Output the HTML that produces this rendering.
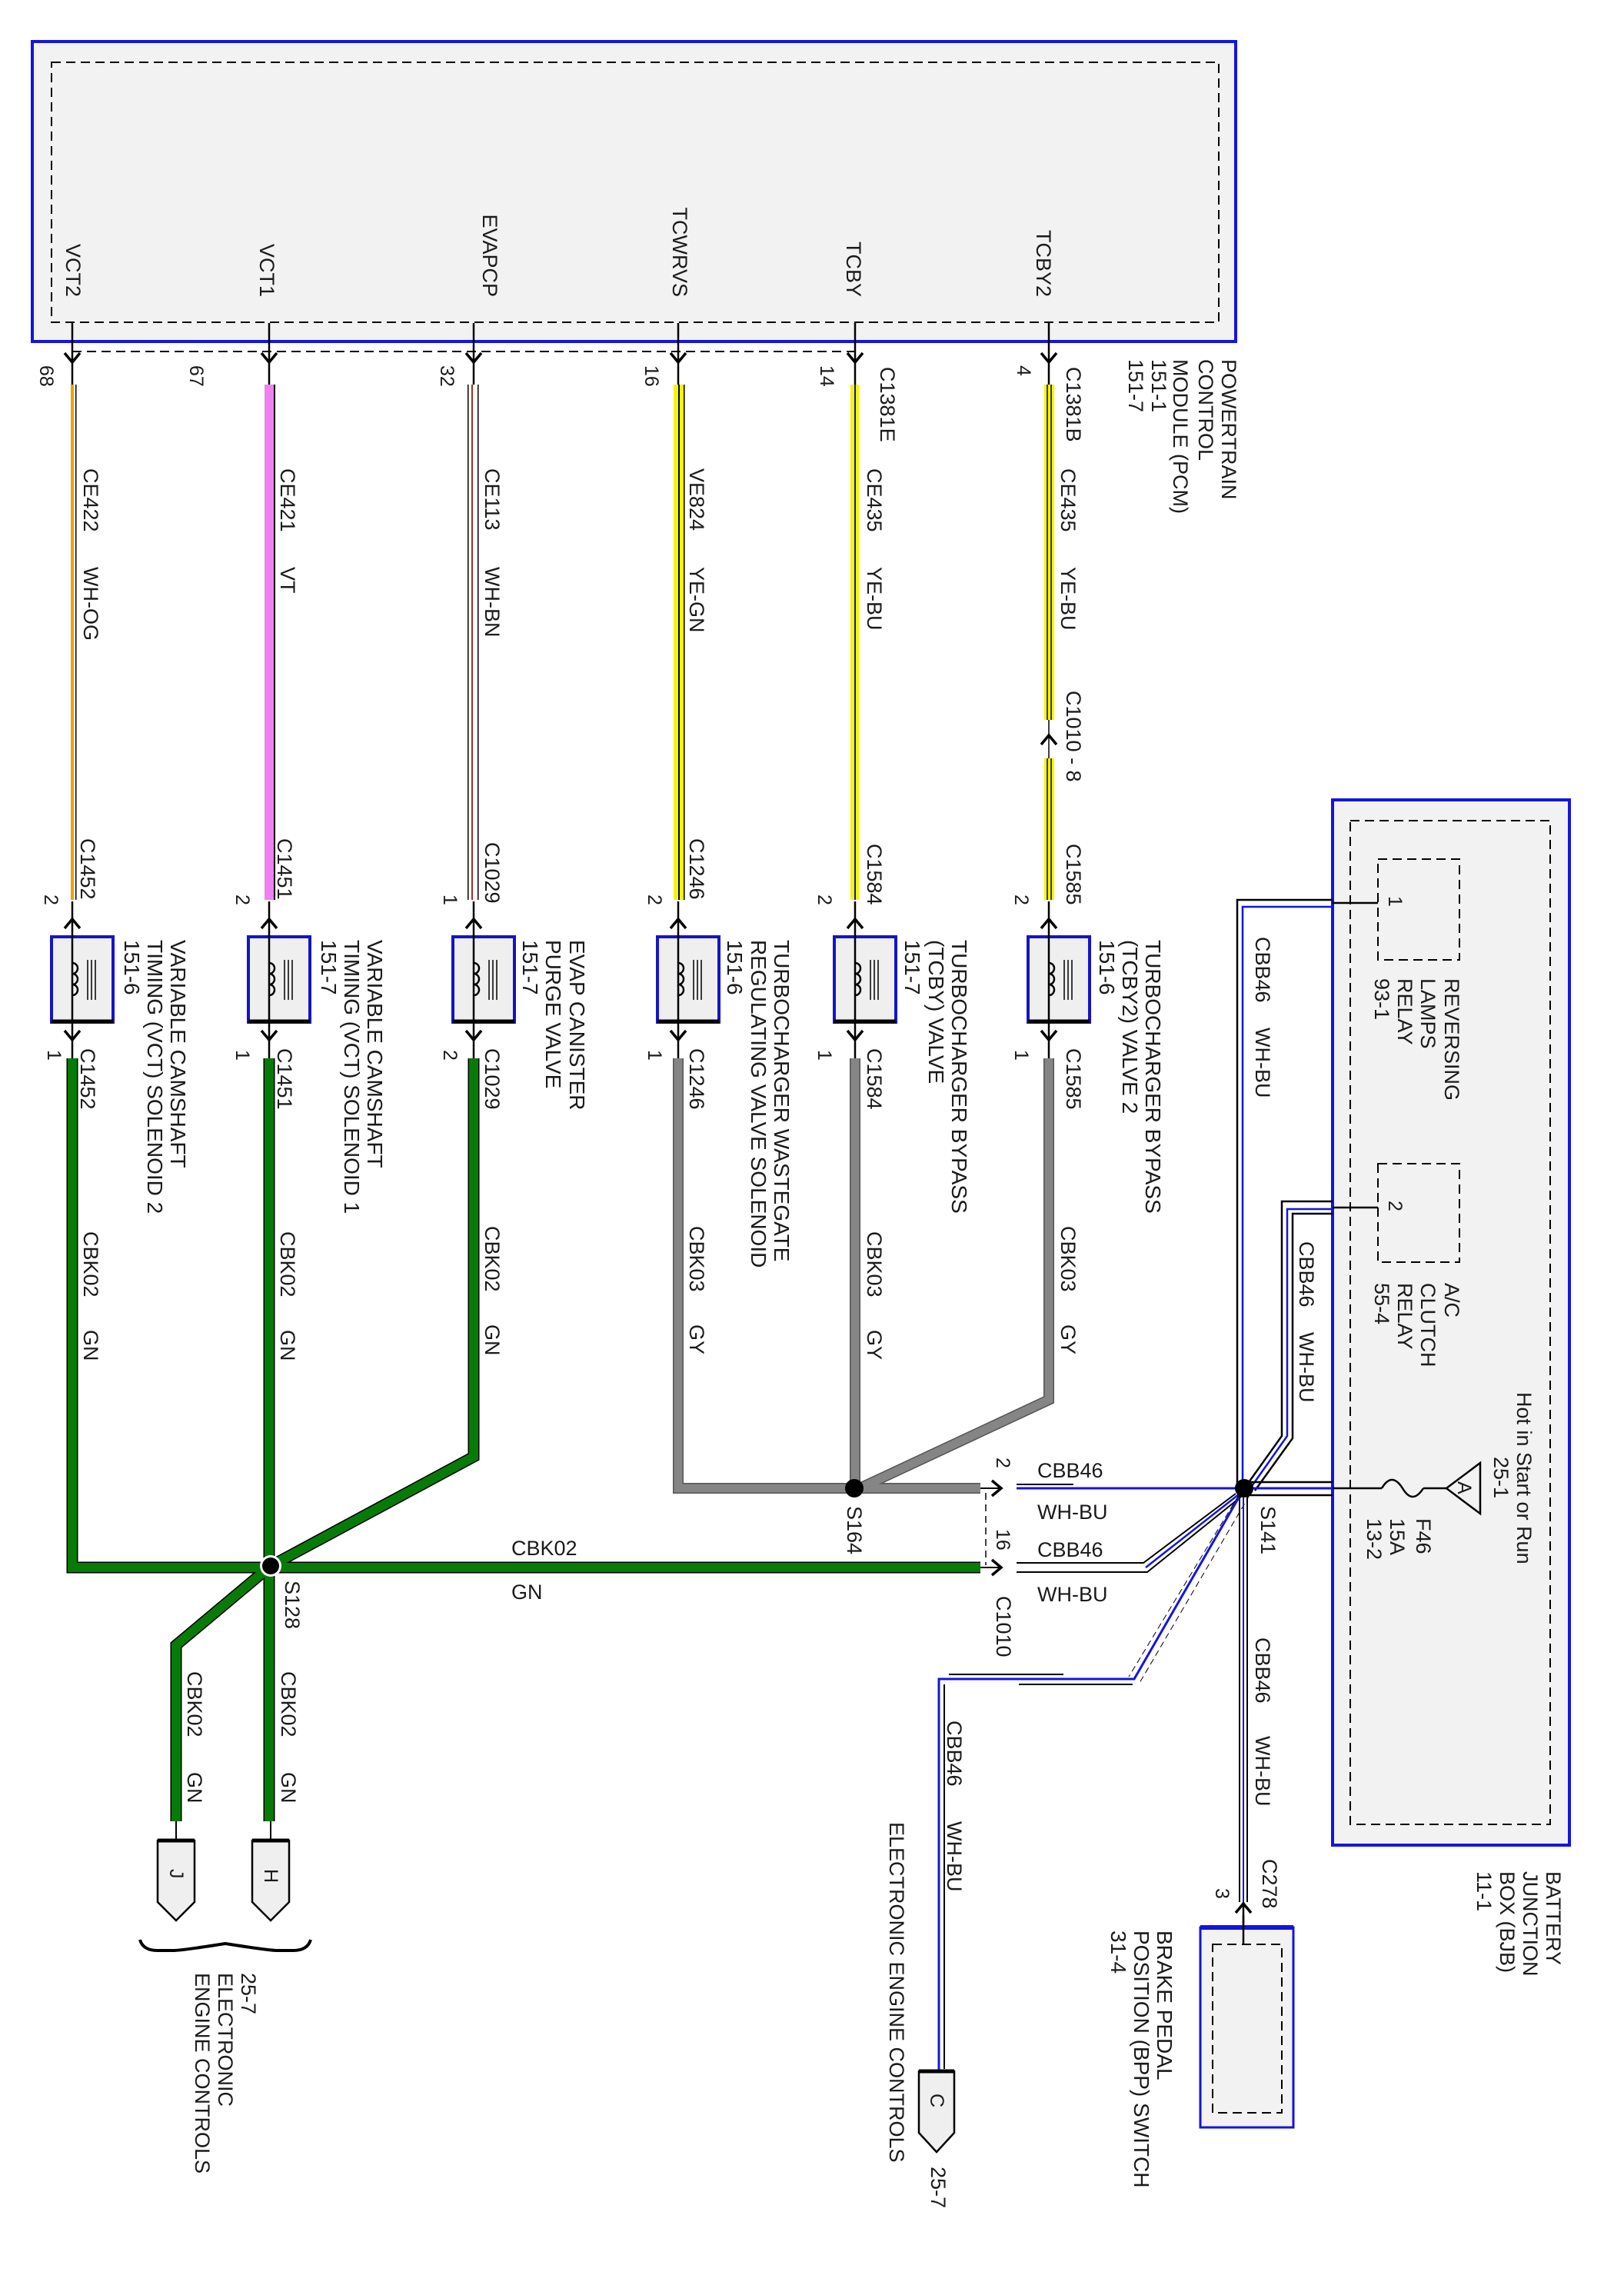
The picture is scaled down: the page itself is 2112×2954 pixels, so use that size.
<!DOCTYPE html>
<html><head><meta charset="utf-8"><style>
html,body{margin:0;padding:0;background:#fff;}
svg{display:block;}
text{font-family:"Liberation Sans",Arial,sans-serif;fill:#1a1a1a;}
.r{font-size:27px;}
.s{font-size:25px;}
.c{font-size:28px;}
</style></head><body>
<svg width="2112" height="2954" viewBox="0 0 2112 2954" xmlns="http://www.w3.org/2000/svg">
<defs>
<g id="sol">
<rect x="-27" y="1218" width="80" height="111" fill="#efefef" stroke="#1414c8" stroke-width="4"/>
<path d="M-27,1328 H53" stroke="#000" stroke-width="5"/>
<path d="M0,1172 V1376" stroke="#000" stroke-width="2.5" fill="none"/>
<path d="M0,1252 a7,7 0 0 1 0,14 a7,7 0 0 1 0,14 a7,7 0 0 1 0,14" stroke="#000" stroke-width="2.5" fill="none"/>
<path d="M20,1248 V1300 M25,1248 V1300 M30,1248 V1300" stroke="#000" stroke-width="1.5"/>
<path d="M-10,1207 L0,1195 L10,1207" stroke="#000" stroke-width="3.5" fill="none"/>
<path d="M-10,1340 L0,1352 L10,1340" stroke="#000" stroke-width="3.5" fill="none"/>
</g>
<path id="dn" d="M-10,459 L0,471 L10,459" stroke="#000" stroke-width="3.5" fill="none"/>
</defs>

<!-- PCM -->
<rect x="42" y="54" width="1565" height="390" fill="#f2f2f2" stroke="#1414e0" stroke-width="4"/>
<rect x="67" y="81" width="1518" height="338" fill="none" stroke="#000" stroke-width="2" stroke-dasharray="12,7"/>
<path d="M94,457 H1112" stroke="#000" stroke-width="2" stroke-dasharray="12,7"/>
<g class="r" text-anchor="end">
<text transform="translate(86,386) rotate(90)">VCT2</text>
<text transform="translate(338,386) rotate(90)">VCT1</text>
<text transform="translate(628,386) rotate(90)">EVAPCP</text>
<text transform="translate(875,386) rotate(90)">TCWRVS</text>
<text transform="translate(1101,386) rotate(90)">TCBY</text>
<text transform="translate(1348,386) rotate(90)">TCBY2</text>
</g>
<g class="r">
<text transform="translate(1589,467) rotate(90)">POWERTRAIN</text>
<text transform="translate(1559,467) rotate(90)">CONTROL</text>
<text transform="translate(1526,467) rotate(90)">MODULE (PCM)</text>
<text transform="translate(1498,467) rotate(90)">151-1</text>
<text transform="translate(1468,467) rotate(90)">151-7</text>
</g>

<!-- thin wire stubs -->
<g stroke="#000" stroke-width="2.5">
<path d="M94,420 V500 M350,420 V500 M616,420 V500 M882,420 V500 M1112,420 V500 M1364,420 V500"/>
</g>
<use href="#dn" x="94"/><use href="#dn" x="350"/><use href="#dn" x="616"/><use href="#dn" x="882"/><use href="#dn" x="1112"/><use href="#dn" x="1364"/>

<!-- colored wires -->
<rect x="92" y="500" width="4" height="670" fill="#f0a000"/>
<rect x="98" y="500" width="1.5" height="670" fill="#000"/>
<rect x="344" y="500" width="12" height="670" fill="#ee82ee"/>
<rect x="356" y="500" width="2" height="670" fill="#000"/>
<rect x="608" y="500" width="1.5" height="670" fill="#000"/>
<rect x="613" y="500" width="2" height="670" fill="#a03020"/>
<rect x="621" y="500" width="1.5" height="670" fill="#000"/>
<rect x="876" y="500" width="13" height="670" fill="#f5f500"/>
<rect x="882" y="500" width="2" height="670" fill="#000"/>
<rect x="889" y="500" width="1.5" height="670" fill="#000"/>
<rect x="1106" y="500" width="11" height="670" fill="#f5f500"/>
<rect x="1111" y="500" width="2" height="670" fill="#1010d0"/>
<rect x="1358" y="500" width="13" height="436" fill="#f5f500"/>
<rect x="1358" y="986" width="13" height="184" fill="#f5f500"/>
<path d="M1362,500 V936 M1367,500 V936 M1362,986 V1170 M1367,986 V1170 M1364,936 V986" stroke="#000" stroke-width="1.5"/>
<path d="M1354,968 L1364,956 L1374,968" stroke="#000" stroke-width="3.5" fill="none"/>

<!-- solenoids -->
<use href="#sol" x="94"/><use href="#sol" x="350"/><use href="#sol" x="616"/><use href="#sol" x="882"/><use href="#sol" x="1112"/><use href="#sol" x="1364"/>

<!-- pin numbers -->
<g class="s">
<text transform="translate(52,475) rotate(90)">68</text>
<text transform="translate(247,475) rotate(90)">67</text>
<text transform="translate(573,475) rotate(90)">32</text>
<text transform="translate(839,475) rotate(90)">16</text>
<text transform="translate(1067,475) rotate(90)">14</text>
<text transform="translate(1323,475) rotate(90)">4</text>
<text transform="translate(58,1163) rotate(90)">2</text>
<text transform="translate(307,1163) rotate(90)">2</text>
<text transform="translate(577,1163) rotate(90)">1</text>
<text transform="translate(843,1163) rotate(90)">2</text>
<text transform="translate(1064,1163) rotate(90)">2</text>
<text transform="translate(1320,1163) rotate(90)">2</text>
<text transform="translate(62,1365) rotate(90)">1</text>
<text transform="translate(307,1365) rotate(90)">1</text>
<text transform="translate(577,1365) rotate(90)">2</text>
<text transform="translate(843,1365) rotate(90)">1</text>
<text transform="translate(1064,1365) rotate(90)">1</text>
<text transform="translate(1320,1365) rotate(90)">1</text>
</g>

<!-- wire labels -->
<g class="r">
<text transform="translate(1145,477) rotate(90)">C1381E</text>
<text transform="translate(1387,477) rotate(90)">C1381B</text>
<text transform="translate(109,609) rotate(90)">CE422</text><text transform="translate(109,737) rotate(90)">WH-OG</text>
<text transform="translate(365,609) rotate(90)">CE421</text><text transform="translate(365,737) rotate(90)">VT</text>
<text transform="translate(631,609) rotate(90)">CE113</text><text transform="translate(631,737) rotate(90)">WH-BN</text>
<text transform="translate(897,609) rotate(90)">VE824</text><text transform="translate(897,737) rotate(90)">YE-GN</text>
<text transform="translate(1128,609) rotate(90)">CE435</text><text transform="translate(1128,737) rotate(90)">YE-BU</text>
<text transform="translate(1380,609) rotate(90)">CE435</text><text transform="translate(1380,737) rotate(90)">YE-BU</text>
<text transform="translate(1387,898) rotate(90)">C1010 - 8</text>
<text transform="translate(105,1090) rotate(90)">C1452</text>
<text transform="translate(361,1090) rotate(90)">C1451</text>
<text transform="translate(631,1095) rotate(90)">C1029</text>
<text transform="translate(897,1090) rotate(90)">C1246</text>
<text transform="translate(1128,1097) rotate(90)">C1584</text>
<text transform="translate(1387,1097) rotate(90)">C1585</text>
<text transform="translate(105,1363) rotate(90)">C1452</text>
<text transform="translate(361,1363) rotate(90)">C1451</text>
<text transform="translate(631,1363) rotate(90)">C1029</text>
<text transform="translate(897,1363) rotate(90)">C1246</text>
<text transform="translate(1128,1363) rotate(90)">C1584</text>
<text transform="translate(1387,1363) rotate(90)">C1585</text>
</g>

<!-- component labels -->
<g class="c">
<text transform="translate(222,1222) rotate(90)">VARIABLE CAMSHAFT</text>
<text transform="translate(192,1222) rotate(90)">TIMING (VCT) SOLENOID 2</text>
<text transform="translate(162,1222) rotate(90)">151-6</text>
<text transform="translate(478,1222) rotate(90)">VARIABLE CAMSHAFT</text>
<text transform="translate(448,1222) rotate(90)">TIMING (VCT) SOLENOID 1</text>
<text transform="translate(418,1222) rotate(90)">151-7</text>
<text transform="translate(741,1222) rotate(90)">EVAP CANISTER</text>
<text transform="translate(710,1222) rotate(90)">PURGE VALVE</text>
<text transform="translate(680,1222) rotate(90)">151-7</text>
<text transform="translate(1007,1222) rotate(90)">TURBOCHARGER WASTEGATE</text>
<text transform="translate(977,1222) rotate(90)">REGULATING VALVE SOLENOID</text>
<text transform="translate(946,1222) rotate(90)">151-6</text>
<text transform="translate(1238,1222) rotate(90)">TURBOCHARGER BYPASS</text>
<text transform="translate(1208,1222) rotate(90)">(TCBY) VALVE</text>
<text transform="translate(1177,1222) rotate(90)">151-7</text>
<text transform="translate(1490,1222) rotate(90)">TURBOCHARGER BYPASS</text>
<text transform="translate(1460,1222) rotate(90)">(TCBY2) VALVE 2</text>
<text transform="translate(1430,1222) rotate(90)">151-6</text>
</g>

<!-- gray wires -->
<g fill="none" stroke-linejoin="miter">
<path d="M882,1376 V1935 H1275 M1112,1376 V1935 M1364,1376 V1820 L1118,1935" stroke="#555" stroke-width="14"/>
<path d="M882,1376 V1935 H1275 M1112,1376 V1935 M1364,1376 V1820 L1118,1935" stroke="#858585" stroke-width="11"/>
<!-- green wires -->
<path d="M94,1376 V2038 H1275 M350,1376 V2368 M616,1376 V1894 L352,2036 L229,2139 V2368" stroke="#000" stroke-width="15"/>
<path d="M94,1376 V2038 H1275 M350,1376 V2368 M616,1376 V1894 L352,2036 L229,2139 V2368" stroke="#087a08" stroke-width="12"/>
</g>
<circle cx="352" cy="2036" r="14" fill="#fff"/><circle cx="352" cy="2036" r="11" fill="#000"/>
<circle cx="1111" cy="1935" r="12" fill="#000"/>

<!-- lower wire labels -->
<g class="r">
<text transform="translate(109,1601) rotate(90)">CBK02</text><text transform="translate(109,1729) rotate(90)">GN</text>
<text transform="translate(365,1601) rotate(90)">CBK02</text><text transform="translate(365,1729) rotate(90)">GN</text>
<text transform="translate(631,1594) rotate(90)">CBK02</text><text transform="translate(631,1722) rotate(90)">GN</text>
<text transform="translate(897,1594) rotate(90)">CBK03</text><text transform="translate(897,1722) rotate(90)">GY</text>
<text transform="translate(1128,1601) rotate(90)">CBK03</text><text transform="translate(1128,1729) rotate(90)">GY</text>
<text transform="translate(1380,1594) rotate(90)">CBK03</text><text transform="translate(1380,1722) rotate(90)">GY</text>
<text transform="translate(371,2055) rotate(90)">S128</text>
<text transform="translate(1102,1958) rotate(90)">S164</text>
<text transform="translate(1640,1958) rotate(90)">S141</text>
<text x="665" y="2022">CBK02</text>
<text x="665" y="2079">GN</text>
<text transform="translate(244,2173) rotate(90)">CBK02</text><text transform="translate(244,2304) rotate(90)">GN</text>
<text transform="translate(366,2173) rotate(90)">CBK02</text><text transform="translate(366,2304) rotate(90)">GN</text>
</g>

<!-- J / H connectors -->
<path d="M229,2368 V2393 M352,2368 V2393" stroke="#000" stroke-width="2"/>
<path d="M205,2393 H253 V2473 L229,2497 L205,2473 Z" fill="#efefef" stroke="#000" stroke-width="2.5"/>
<path d="M328,2393 H376 V2473 L352,2497 L328,2473 Z" fill="#efefef" stroke="#000" stroke-width="2.5"/>
<path d="M205,2393 H253 M328,2393 H376" stroke="#000" stroke-width="5"/>
<text class="s" transform="translate(221,2430) rotate(90)">J</text>
<text class="s" transform="translate(344,2430) rotate(90)">H</text>
<path d="M182,2522 Q186,2536 205,2536 H225 Q236,2536 293,2527 Q350,2536 361,2536 H381 Q400,2536 404,2522" fill="none" stroke="#000" stroke-width="4"/>
<g class="r">
<text transform="translate(314,2565) rotate(90)">25-7</text>
<text transform="translate(284,2565) rotate(90)">ELECTRONIC</text>
<text transform="translate(254,2565) rotate(90)">ENGINE CONTROLS</text>
</g>

<!-- C1010 connectors -->
<path d="M1282,1941 V2035" stroke="#000" stroke-width="1.5" stroke-dasharray="9,6"/>
<path d="M1275,1935 H1300 M1275,2038 H1300" stroke="#000" stroke-width="2"/>
<path d="M1290,1925 L1302,1935 L1290,1945 M1290,2028 L1302,2038 L1290,2048" stroke="#000" stroke-width="3.5" fill="none"/>
<g class="s">
<text transform="translate(1296,1895) rotate(90)">2</text>
<text transform="translate(1296,1988) rotate(90)">16</text>
</g>
<text class="r" transform="translate(1296,2075) rotate(90)">C1010</text>
<g class="r">
<text x="1349" y="1921">CBB46</text><text x="1349" y="1975">WH-BU</text>
<text x="1349" y="2024">CBB46</text><text x="1349" y="2082">WH-BU</text>
</g>

<!-- BJB -->
<rect x="1733" y="1040" width="308" height="1359" fill="#f2f2f2" stroke="#1414e0" stroke-width="4"/>
<rect x="1756" y="1067" width="260" height="1305" fill="none" stroke="#000" stroke-width="2" stroke-dasharray="12,7"/>
<rect x="1792" y="1117" width="106" height="131" fill="none" stroke="#000" stroke-width="2" stroke-dasharray="12,7"/>
<rect x="1792" y="1513" width="106" height="128" fill="none" stroke="#000" stroke-width="2" stroke-dasharray="12,7"/>
<g class="s">
<text transform="translate(1806,1165) rotate(90)">1</text>
<text transform="translate(1806,1561) rotate(90)">2</text>
</g>
<g class="r">
<text transform="translate(1879,1272) rotate(90)">REVERSING</text>
<text transform="translate(1848,1272) rotate(90)">LAMPS</text>
<text transform="translate(1818,1272) rotate(90)">RELAY</text>
<text transform="translate(1788,1272) rotate(90)">93-1</text>
<text transform="translate(1879,1668) rotate(90)">A/C</text>
<text transform="translate(1848,1668) rotate(90)">CLUTCH</text>
<text transform="translate(1818,1668) rotate(90)">RELAY</text>
<text transform="translate(1788,1668) rotate(90)">55-4</text>
<text transform="translate(1973,1810) rotate(90)">Hot in Start or Run</text>
<text transform="translate(1943,1894) rotate(90)">25-1</text>
<text transform="translate(1842,1974) rotate(90)">F46</text>
<text transform="translate(1808,1974) rotate(90)">15A</text>
<text transform="translate(1778,1974) rotate(90)">13-2</text>
<text transform="translate(2011,2433) rotate(90)">BATTERY</text>
<text transform="translate(1981,2433) rotate(90)">JUNCTION</text>
<text transform="translate(1951,2433) rotate(90)">BOX (BJB)</text>
<text transform="translate(1921,2433) rotate(90)">11-1</text>
</g>
<path d="M1881,1935 L1925,1902 L1925,1968 Z" fill="#f2f2f2" stroke="#000" stroke-width="2.5"/>
<text class="s" transform="translate(1896,1926) rotate(90)">A</text>

<!-- CBB46 wiring -->
<g fill="none" stroke-width="2.5">
<path d="M1792,1174 H1733 M1733,1170 H1609 V1935" stroke="#000"/>
<path d="M1733,1179 H1616 V1935" stroke="#1414e0"/>
<path d="M1792,1570 H1733 M1733,1562 H1667 V1867 L1622,1930" stroke="#000"/>
<path d="M1733,1572 H1674 V1867 L1626,1935" stroke="#1414e0"/>
<path d="M1733,1578 H1681 V1870 L1632,1938" stroke="#000"/>
<path d="M1618,1927 H1733 M1618,1944 H1733 M1733,1935 H1797 M1851,1935 H1881" stroke="#000"/>
<path d="M1797,1935 q13,-22 27,0 q13,22 27,0" stroke="#000"/>
<path d="M1618,1935 H1733" stroke="#1414e0" stroke-width="3"/>
<path d="M1322,1935 H1618" stroke="#1414e0" stroke-width="3"/>
<path d="M1322,1930 H1396" stroke="#000" stroke-width="2"/>
<path d="M1322,2032 H1487 L1607,1942 M1322,2044 H1492 L1614,1946" stroke="#000" stroke-width="2"/>
<path d="M1490,2038 L1611,1943" stroke="#1414e0"/>
<path d="M1618,1935 L1475,2183 H1221 V2693" stroke="#1414e0" stroke-width="3"/>
<path d="M1234,2177 H1383 M1325,2190 H1473 M1228,2190 V2690" stroke="#000" stroke-width="2"/>
<path d="M1611,1944 L1468,2180 M1625,1944 L1482,2188" stroke="#000" stroke-width="1" stroke-dasharray="8,5"/>
<path d="M1612,1940 V2473 M1622,1940 V2473" stroke="#000" stroke-width="2"/>
<path d="M1617,1940 V2473" stroke="#1414e0" stroke-width="2"/>
</g>
<circle cx="1618" cy="1935" r="12" fill="#000"/>
<g class="r">
<text transform="translate(1633,1218) rotate(90)">CBB46</text><text transform="translate(1633,1336) rotate(90)">WH-BU</text>
<text transform="translate(1690,1614) rotate(90)">CBB46</text><text transform="translate(1690,1732) rotate(90)">WH-BU</text>
<text transform="translate(1633,2129) rotate(90)">CBB46</text><text transform="translate(1633,2257) rotate(90)">WH-BU</text>
<text transform="translate(1232,2237) rotate(90)">CBB46</text><text transform="translate(1232,2368) rotate(90)">WH-BU</text>
<text transform="translate(1157,2369) rotate(90)">ELECTRONIC ENGINE CONTROLS</text>
<text transform="translate(1211,2817) rotate(90)">25-7</text>
<text transform="translate(1642,2417) rotate(90)">C278</text>
</g>
<text class="s" transform="translate(1581,2455) rotate(90)">3</text>

<!-- C connector -->
<path d="M1195,2693 H1241 V2773 L1218,2798 L1195,2773 Z" fill="#efefef" stroke="#000" stroke-width="2.5"/>
<path d="M1195,2693 H1241" stroke="#000" stroke-width="5"/>
<text class="s" transform="translate(1210,2722) rotate(90)">C</text>

<!-- BPP -->
<path d="M1607,2487 L1617,2475 L1627,2487" stroke="#000" stroke-width="3.5" fill="none"/>
<path d="M1617,2473 V2528" stroke="#000" stroke-width="2.5"/>
<rect x="1561" y="2506" width="121" height="260" fill="#f2f2f2" stroke="#1414e0" stroke-width="3"/>
<path d="M1561,2506 H1682" stroke="#1414e0" stroke-width="6"/>
<rect x="1577" y="2528" width="90" height="219" fill="none" stroke="#000" stroke-width="2" stroke-dasharray="12,7"/>
<path d="M1617,2528 V2490" stroke="#000" stroke-width="2.5"/>
<g class="c">
<text transform="translate(1505,2510) rotate(90)">BRAKE PEDAL</text>
<text transform="translate(1475,2510) rotate(90)">POSITION (BPP) SWITCH</text>
<text transform="translate(1445,2510) rotate(90)">31-4</text>
</g>
</svg>
</body></html>
